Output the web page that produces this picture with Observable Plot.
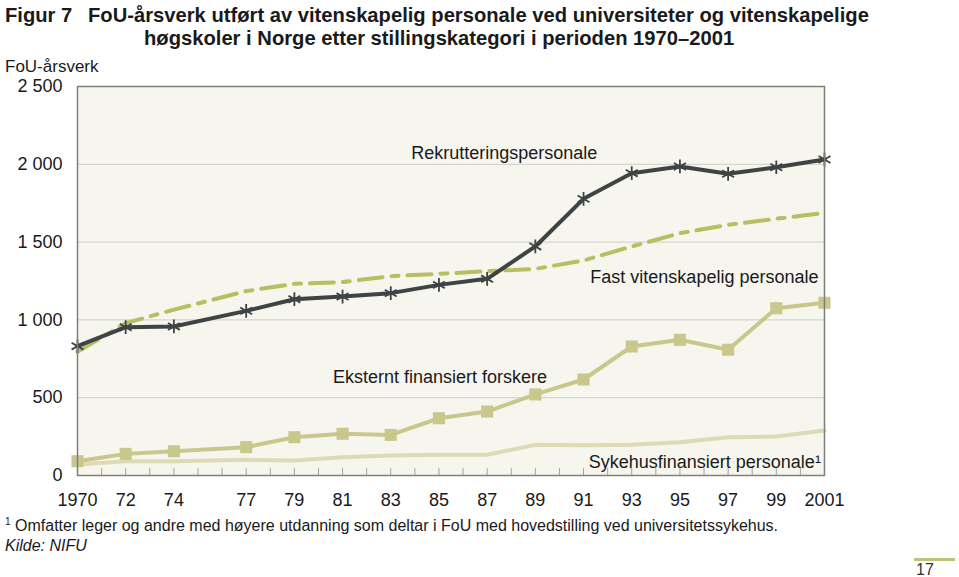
<!DOCTYPE html>
<html><head><meta charset="utf-8">
<script src="https://cdn.jsdelivr.net/npm/d3@7"></script>
<script src="https://cdn.jsdelivr.net/npm/@observablehq/plot@0.6"></script>
<style>
body{margin:0;background:#fff;font-family:"Liberation Sans",Arial,sans-serif;color:#1a1a1a}
#wrap{position:relative;width:959px;height:577px;overflow:hidden}
.abs{position:absolute;white-space:nowrap;line-height:1}
.title{font-family:"Liberation Sans Narrow","Arial Narrow","Liberation Sans",sans-serif;font-weight:bold;font-size:20.2px}
</style></head>
<body><div id="wrap">
<div class="abs title" style="left:5px;top:5px">Figur 7</div>
<div class="abs title" style="left:88px;top:5px">FoU-årsverk utført av vitenskapelig personale ved universiteter og vitenskapelige</div>
<div class="abs title" style="left:144px;top:28px">høgskoler i Norge etter stillingskategori i perioden 1970–2001</div>
<div class="abs" style="left:5px;top:58px;font-size:17px">FoU-årsverk</div>
<div class="abs" style="left:5px;top:517px;font-size:16px"><sup style="font-size:10px">1</sup> Omfatter leger og andre med høyere utdanning som deltar i FoU med hovedstilling ved universitetssykehus.</div>
<div class="abs" style="left:5px;top:538px;font-size:16px;font-style:italic">Kilde: NIFU</div>
<div class="abs" style="left:914px;top:558px;width:41px;height:3px;background:#bcc277"></div>
<div class="abs" style="left:916px;top:562px;font-size:16px;color:#333">17</div>
</div>
<script>
const years = [1970,1972,1974,1977,1979,1981,1983,1985,1987,1989,1991,1993,1995,1997,1999,2001];
const allYears = d3.range(1970, 2002);
const rekruttering = [831,953,958,1058,1133,1150,1172,1225,1264,1472,1778,1943,1986,1939,1981,2031];
const fastVit = [795,979,1066,1185,1232,1243,1281,1296,1313,1328,1382,1472,1557,1611,1650,1688];
const eksternt = [92,139,156,182,246,268,261,368,411,521,617,829,872,808,1075,1110];
const sykehus = [71,92,92,101,96,118,128,133,133,197,195,197,214,246,251,289];
const yTicks = [0,500,1000,1500,2000,2500];
const seriesLabels = [
  {text:"Rekrutteringspersonale", year:1983.85, value:2070, anchor:"start"},
  {text:"Fast vitenskapelig personale", year:2000.75, value:1272, anchor:"end"},
  {text:"Eksternt finansiert forskere", year:1980.6, value:630, anchor:"start"},
  {text:"Sykehusfinansiert personale¹", year:2000.85, value:84, anchor:"end"}
];

const toRows = vals => years.map((y,i)=>({year:y, value:vals[i]}));
const fmt = d3.formatLocale({thousands:" ", grouping:[3], decimal:","}).format(",");
const xFmt = d => (d===1970||d===2001) ? String(d) : String(d%100).padStart(2,"0");

const chart = Plot.plot({
  width:959, height:577,
  marginLeft:77, marginRight:135, marginTop:86, marginBottom:102,
  style:{fontFamily:"'Liberation Sans', Arial, sans-serif", fontSize:"18px", background:"transparent", color:"#1a1a1a"},
  x:{domain:[1970,2001]},
  y:{domain:[0,2500]},
  marks:[
    Plot.frame({fill:"#f6f5ee", stroke:null}),
    Plot.gridY([500,1000,1500,2000], {stroke:"#cfcfc6", strokeOpacity:1}),
    Plot.axisY({ticks:yTicks, tickFormat:fmt, tickSize:0, tickPadding:15, fontSize:18, label:null}),
    Plot.ruleX(allYears, {x:d=>d, y1:0, y2:0, insetBottom:7, stroke:"#a3a3a3", strokeWidth:1}),
    Plot.axisX({ticks:years, tickFormat:xFmt, tickSize:0, tickPadding:18, fontSize:18, label:null}),
    Plot.line(toRows(sykehus), {x:"year", y:"value", stroke:"#dddbb6", strokeWidth:4}),
    Plot.line(toRows(eksternt), {x:"year", y:"value", stroke:"#c8c88d", strokeWidth:4}),
    Plot.dot(toRows(eksternt), {x:"year", y:"value", symbol:"square", r:6.8, fill:"#c8c88d"}),
    Plot.line(toRows(fastVit), {x:"year", y:"value", stroke:"#b8be62", strokeWidth:4, strokeDasharray:"24,9,7,9"}),
    Plot.line(toRows(rekruttering), {x:"year", y:"value", stroke:"#3d4443", strokeWidth:4}),
    Plot.dot(toRows(rekruttering), {x:"year", y:"value", symbol:"asterisk", r:6.5, stroke:"#3d4443", strokeWidth:1.8}),
    Plot.frame({stroke:"#7f7f7f", strokeWidth:1.5}),
    Plot.text(seriesLabels.filter(d=>d.anchor==="start"), {x:"year", y:"value", text:"text", textAnchor:"start", fontSize:18, fill:"#1a1a1a"}),
    Plot.text(seriesLabels.filter(d=>d.anchor==="end"), {x:"year", y:"value", text:"text", textAnchor:"end", fontSize:18, fill:"#1a1a1a"})
  ]
});
chart.style.position = "absolute";
chart.style.left = "0";
chart.style.top = "0";
document.getElementById("wrap").prepend(chart);
</script>
</body></html>
